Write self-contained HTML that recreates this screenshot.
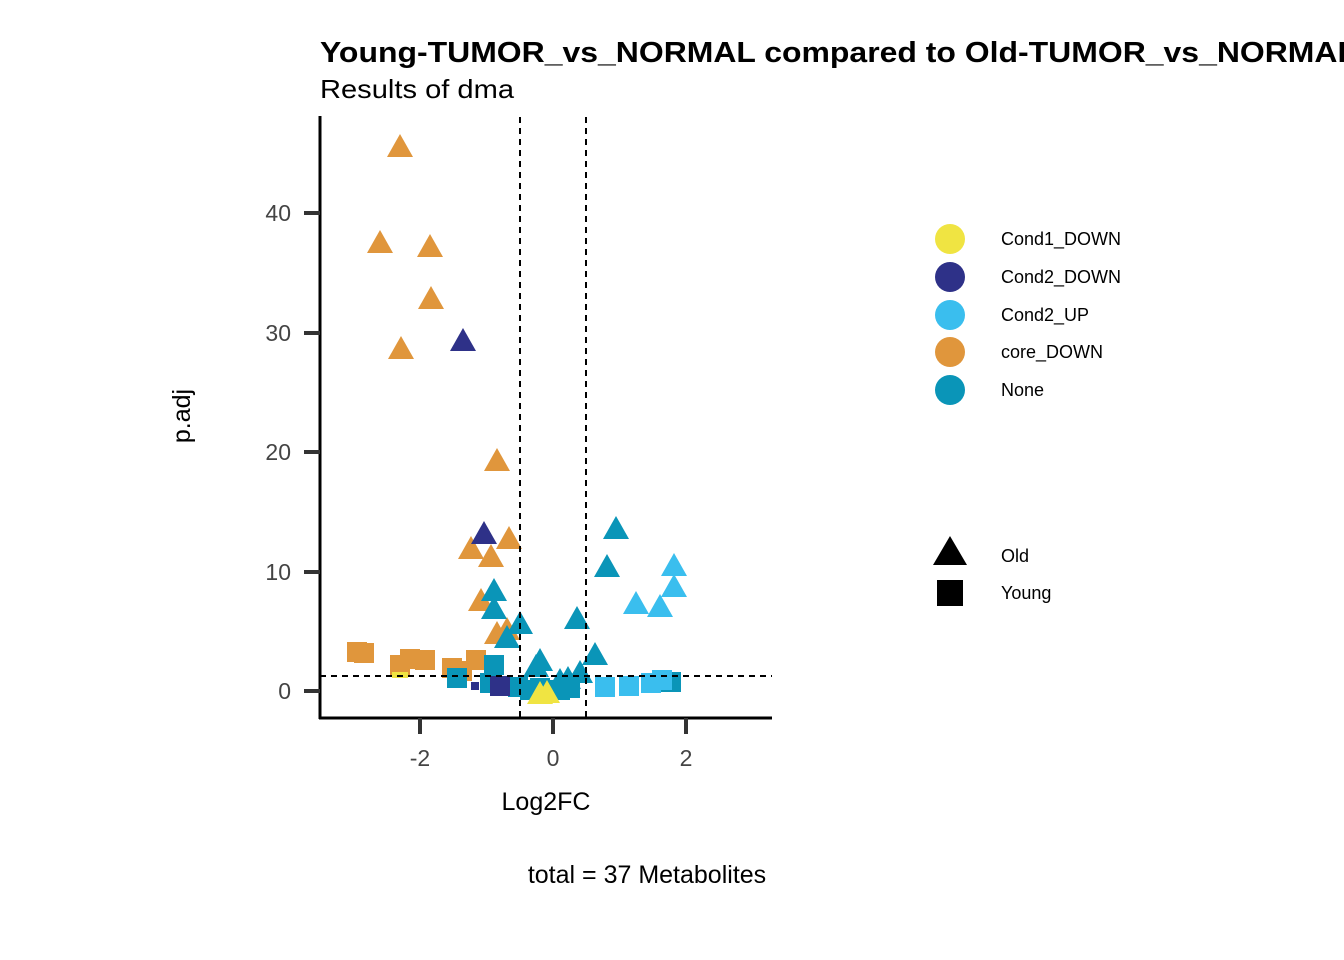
<!DOCTYPE html><html><head><style>body{margin:0;background:#fff;overflow:hidden}svg{display:block}text{font-family:"Liberation Sans",sans-serif}</style></head><body>
<svg width="1344" height="960" xmlns="http://www.w3.org/2000/svg">
<defs>
<path id="t" d="M0,-13 L-13,10 L13,10Z"/>
<rect id="s" x="-10" y="-10" width="20" height="20"/>
</defs>
<text x="320" y="62" font-size="29" font-weight="bold" textLength="1037" lengthAdjust="spacingAndGlyphs">Young-TUMOR_vs_NORMAL compared to Old-TUMOR_vs_NORMAL</text>
<text x="320" y="98" font-size="26" textLength="194" lengthAdjust="spacingAndGlyphs">Results of dma</text>
<g fill="#E0963C">
<use href="#s" x="357" y="652"/><use href="#s" x="364" y="653"/><use href="#s" x="400" y="665"/><use href="#s" x="410" y="659"/><use href="#s" x="425" y="660"/><use href="#s" x="452" y="668"/><use href="#s" x="476" y="660"/><use href="#s" x="462" y="671"/>
</g>
<rect x="392" y="672" width="16" height="6" fill="#F0E442"/>
<g fill="#0A95B8">
<use href="#s" x="457" y="678"/><use href="#s" x="494" y="665"/><use href="#s" x="490" y="683"/><use href="#s" x="518" y="687"/><use href="#s" x="540" y="688"/><use href="#s" x="570" y="688"/><use href="#s" x="560" y="690"/><use href="#s" x="671" y="682"/><use href="#s" x="530" y="690"/>
</g>
<g fill="#2E3188"><use href="#s" x="500" y="686"/><rect x="471" y="682" width="8" height="8"/></g>
<g fill="#3ABEEE"><use href="#s" x="605" y="687"/><use href="#s" x="629" y="686"/><use href="#s" x="651" y="683"/><use href="#s" x="662" y="680"/></g>
<g fill="#E0963C">
<use href="#t" x="400" y="147"/><use href="#t" x="380" y="243"/><use href="#t" x="430" y="247"/><use href="#t" x="431" y="299"/><use href="#t" x="401" y="349"/><use href="#t" x="497" y="461"/><use href="#t" x="509" y="539"/><use href="#t" x="471" y="549"/><use href="#t" x="491" y="557"/><use href="#t" x="481" y="601"/><use href="#t" x="497" y="634"/><use href="#t" x="507" y="630"/>
</g>
<g fill="#2E3188"><use href="#t" x="463" y="341"/><use href="#t" x="484" y="534"/></g>
<g fill="#0A95B8">
<use href="#t" x="616" y="529"/><use href="#t" x="607" y="567"/><use href="#t" x="494" y="591"/><use href="#t" x="494" y="609"/><use href="#t" x="520" y="624"/><use href="#t" x="507" y="638"/><use href="#t" x="577" y="619"/><use href="#t" x="595" y="655"/><use href="#t" x="540" y="661"/><use href="#t" x="536" y="667"/><use href="#t" x="580" y="673"/><use href="#t" x="560" y="681"/><use href="#t" x="568" y="679"/>
</g>
<g fill="#3ABEEE"><use href="#t" x="674" y="566"/><use href="#t" x="674" y="587"/><use href="#t" x="636" y="604"/><use href="#t" x="660" y="607"/></g>
<g fill="#F0E442"><use href="#t" x="547" y="693"/><use href="#t" x="540" y="694"/></g>
<g stroke="#000" stroke-width="2" stroke-dasharray="6,5">
<line x1="520" y1="117" x2="520" y2="718"/><line x1="586" y1="117" x2="586" y2="718"/><line x1="320" y1="676" x2="772" y2="676"/>
</g>
<g stroke="#000" stroke-width="3"><line x1="320" y1="116" x2="320" y2="719"/><line x1="319" y1="718" x2="772" y2="718"/></g>
<g stroke="#333" stroke-width="4">
<line x1="304" y1="213" x2="320" y2="213"/><line x1="304" y1="333" x2="320" y2="333"/><line x1="304" y1="452" x2="320" y2="452"/><line x1="304" y1="572" x2="320" y2="572"/><line x1="304" y1="691" x2="320" y2="691"/>
<line x1="420" y1="718" x2="420" y2="734"/><line x1="553" y1="718" x2="553" y2="734"/><line x1="686" y1="718" x2="686" y2="734"/>
</g>
<g font-size="23" fill="#444" text-anchor="end">
<text x="291" y="221">40</text><text x="291" y="341">30</text><text x="291" y="460">20</text><text x="291" y="580">10</text><text x="291" y="699">0</text>
</g>
<g font-size="23" fill="#444" text-anchor="middle">
<text x="420" y="766">-2</text><text x="553" y="766">0</text><text x="686" y="766">2</text>
</g>
<text x="546" y="810" font-size="25" text-anchor="middle">Log2FC</text>
<text x="190" y="416" font-size="25" text-anchor="middle" transform="rotate(-90 190 416)">p.adj</text>
<text x="647" y="883" font-size="25" text-anchor="middle">total = 37 Metabolites</text>
<g font-size="18">
<circle cx="950" cy="239" r="15" fill="#F0E442"/><text x="1001" y="245">Cond1_DOWN</text>
<circle cx="950" cy="277" r="15" fill="#2E3188"/><text x="1001" y="283">Cond2_DOWN</text>
<circle cx="950" cy="315" r="15" fill="#3ABEEE"/><text x="1001" y="321">Cond2_UP</text>
<circle cx="950" cy="352" r="15" fill="#E0963C"/><text x="1001" y="358">core_DOWN</text>
<circle cx="950" cy="390" r="15" fill="#0A95B8"/><text x="1001" y="396">None</text>
<path d="M950,536 L933,565 L967,565Z"/><text x="1001" y="562">Old</text>
<rect x="937" y="580" width="26" height="26"/><text x="1001" y="599">Young</text>
</g>
</svg></body></html>
